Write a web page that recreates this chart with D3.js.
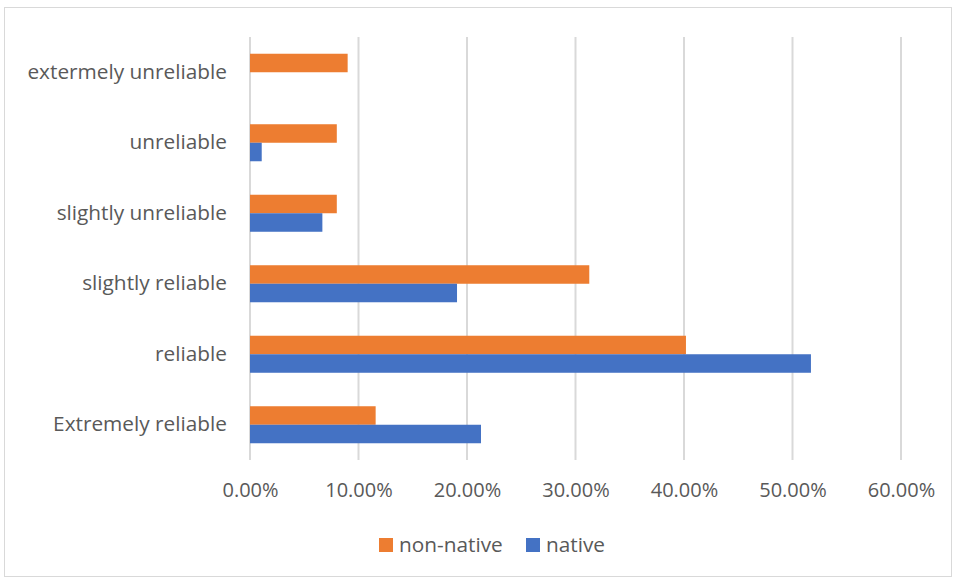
<!DOCTYPE html>
<html>
<head>
<meta charset="utf-8">
<script src="https://cdn.jsdelivr.net/npm/d3@7"></script>
<style>
  html, body { margin: 0; padding: 0; background: #fff; }
  svg text { font-family: "Open Sans", "Liberation Sans", sans-serif; fill: #595959; }
</style>
</head>
<body>
<svg id="chart" width="953" height="579"></svg>
<script>
// Reliability ratings, top to bottom as listed on the axis
const categories = [
  "extermely unreliable",
  "unreliable",
  "slightly unreliable",
  "slightly reliable",
  "reliable",
  "Extremely reliable"
];
const nonNative = [0.090, 0.080, 0.080, 0.3127, 0.4018, 0.1158];
const native    = [0.000, 0.0108, 0.0667, 0.1908, 0.5170, 0.2129];
const seriesNames = ["non-native", "native"];
const seriesColors = ["#ED7D31", "#4472C4"];
const xTicks = [0, 0.1, 0.2, 0.3, 0.4, 0.5, 0.6];

const fontSize = 20;
const labelSize = 20.8;
const svg = d3.select("#chart");

// chart frame
svg.append("rect")
  .attr("x", 4.5).attr("y", 7.5)
  .attr("width", 947).attr("height", 569)
  .attr("fill", "#fff").attr("stroke", "#D9D9D9").attr("stroke-width", 1);

const plot = { left: 250, right: 901, top: 37, bottom: 460 };

const x = d3.scaleLinear().domain([0, 0.6]).range([plot.left, plot.right]);
const y = d3.scaleBand().domain(categories).range([plot.top, plot.bottom]).paddingInner(0.475).paddingOuter(0.2375);
const sub = d3.scaleBand().domain(seriesNames).range([0, y.bandwidth()]);

// vertical gridlines
svg.append("g")
  .selectAll("line")
  .data(xTicks)
  .join("line")
  .attr("x1", d => x(d)).attr("x2", d => x(d))
  .attr("y1", plot.top).attr("y2", plot.bottom)
  .attr("stroke", "#D9D9D9").attr("stroke-width", 2);

// x tick labels
const xAxis = d3.axisBottom(x).tickValues(xTicks).tickFormat(d3.format(".2%")).tickSize(0).tickPadding(0);
const gx = svg.append("g").attr("transform", `translate(0,${plot.bottom + 23})`).call(xAxis);
gx.select(".domain").remove();
gx.selectAll("text").attr("font-size", fontSize).attr("fill", "#595959").style("font-family", '"Open Sans", sans-serif');

// category labels
const yAxis = d3.axisLeft(y).tickSize(0).tickPadding(0);
const gy = svg.append("g").attr("transform", `translate(${plot.left - 23},0)`).call(yAxis);
gy.select(".domain").remove();
gy.selectAll("text").attr("font-size", labelSize).attr("fill", "#595959").style("font-family", '"Open Sans", sans-serif');

// bars
const seriesData = [nonNative, native];
seriesData.forEach((vals, si) => {
  svg.append("g")
    .selectAll("rect")
    .data(vals)
    .join("rect")
    .attr("x", x(0))
    .attr("y", (d, i) => y(categories[i]) + sub(seriesNames[si]))
    .attr("width", d => x(d) - x(0))
    .attr("height", sub.bandwidth())
    .attr("fill", seriesColors[si]);
});

// legend
const legendItems = [
  { name: seriesNames[0], color: seriesColors[0], x: 379 },
  { name: seriesNames[1], color: seriesColors[1], x: 526 }
];
const lg = svg.append("g");
legendItems.forEach(it => {
  lg.append("rect").attr("x", it.x).attr("y", 538).attr("width", 14).attr("height", 14).attr("fill", it.color);
  lg.append("text").attr("x", it.x + 20).attr("y", 545).attr("dy", "0.35em")
    .attr("font-size", labelSize).text(it.name);
});
</script>
</body>
</html>
